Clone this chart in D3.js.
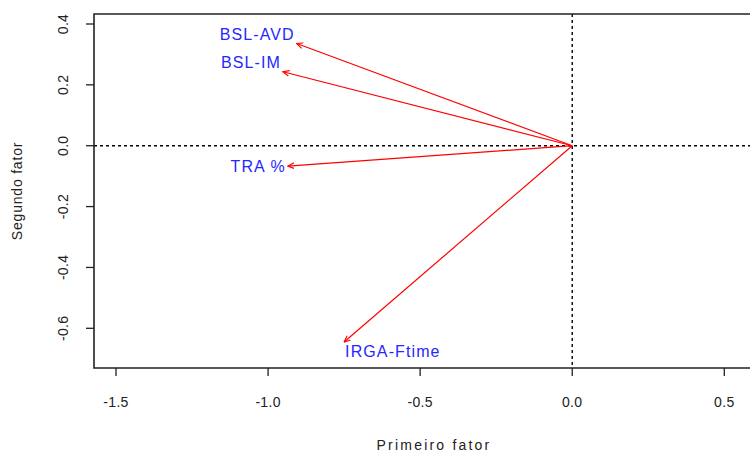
<!DOCTYPE html>
<meta charset="utf-8">
<head>
<style>
body { margin: 0; background: #fff; }
text { font-family: "Liberation Sans", Arial, sans-serif; }
.tick-label { font-size: 14px; fill: #222; letter-spacing: 0.3px; }
.axis-title { font-size: 14px; fill: #222; }
.var-label { font-size: 16px; fill: #2626ff; letter-spacing: 1.1px; }
</style>
<script src="https://d3js.org/d3.v7.min.js"></script>
</head>
<body>
<svg width="750" height="454"></svg>
<script>

// loadings of each variable on the two factors
var varNames = ["BSL-AVD", "BSL-IM", "TRA %", "IRGA-Ftime"];
var fator1 = [-0.906, -0.951, -0.935, -0.750];
var fator2 = [0.336, 0.243, -0.067, -0.645];

var xTicks = [-1.5, -1.0, -0.5, 0.0, 0.5];
var yTicks = [-0.6, -0.4, -0.2, 0.0, 0.2, 0.4];

var svg = d3.select("svg");

// same scale on both axes (asp = 1)
var x = d3.scaleLinear().domain([-1.5, 0.5]).range([116, 724.3]);
var y = d3.scaleLinear().domain([-0.6, 0.4]).range([328.3, 24]);

var box = { left: 94, top: 14, bottom: 368, right: 770 };

// R prints a plain hyphen, not the unicode minus
var fmt = function(d) { return d3.format(".1f")(d).replace("\u2212", "-"); };

svg.append("defs").append("marker")
    .attr("id", "head")
    .attr("viewBox", "0 0 10 10")
    .attr("refX", 9).attr("refY", 5)
    .attr("markerWidth", 7).attr("markerHeight", 7)
    .attr("markerUnits", "userSpaceOnUse")
    .attr("orient", "auto")
  .append("path")
    .attr("d", "M0,1 L9,5 L0,9")
    .attr("fill", "none")
    .attr("stroke", "#ff0000")
    .attr("stroke-width", 1.6);

// reference lines through the origin
svg.append("line")
    .attr("x1", box.left).attr("x2", box.right)
    .attr("y1", y(0)).attr("y2", y(0))
    .attr("stroke", "#000").attr("stroke-width", 1.4)
    .attr("stroke-dasharray", "3,3");
svg.append("line")
    .attr("x1", x(0)).attr("x2", x(0))
    .attr("y1", box.top).attr("y2", box.bottom)
    .attr("stroke", "#000").attr("stroke-width", 1.4)
    .attr("stroke-dasharray", "3,3");

var data = varNames.map(function(n, i) { return { name: n, f1: fator1[i], f2: fator2[i] }; });

svg.append("g").selectAll("line")
  .data(data)
  .enter().append("line")
    .attr("x1", x(0)).attr("y1", y(0))
    .attr("x2", function(d) { return x(d.f1); })
    .attr("y2", function(d) { return y(d.f2); })
    .attr("stroke", "#ff0000")
    .attr("stroke-width", 1.2)
    .attr("marker-end", "url(#head)");

// labels: upper ones sit above-left of the tip, middle one left, lower one below-right
svg.append("g").selectAll("text")
  .data(data)
  .enter().append("text")
    .attr("class", "var-label")
    .attr("x", function(d) { return d.f2 < -0.3 ? x(d.f1) + 1 : x(d.f1) - 2; })
    .attr("y", function(d) {
      if (d.f2 > 0.1) return y(d.f2) - 9.5;
      if (d.f2 < -0.3) return y(d.f2) + 9.5;
      return y(d.f2);
    })
    .attr("dy", "0.36em")
    .attr("text-anchor", function(d) { return d.f2 < -0.3 ? "start" : "end"; })
    .text(function(d) { return d.name; });

// box
svg.append("path")
    .attr("d", "M" + box.right + "," + box.top + "H" + box.left + "V" + box.bottom + "H" + box.right)
    .attr("fill", "none")
    .attr("stroke", "#222")
    .attr("stroke-width", 1.6);

// x axis
var xg = svg.append("g");
xg.selectAll("line").data(xTicks).enter().append("line")
    .attr("x1", x).attr("x2", x)
    .attr("y1", box.bottom).attr("y2", box.bottom + 8)
    .attr("stroke", "#222").attr("stroke-width", 1.3);
xg.selectAll("text").data(xTicks).enter().append("text")
    .attr("class", "tick-label")
    .attr("x", x).attr("y", 402)
    .attr("dy", "0.36em")
    .attr("text-anchor", "middle")
    .text(fmt);

// y axis
var yg = svg.append("g");
yg.selectAll("line").data(yTicks).enter().append("line")
    .attr("y1", y).attr("y2", y)
    .attr("x1", box.left - 8).attr("x2", box.left)
    .attr("stroke", "#222").attr("stroke-width", 1.3);
yg.selectAll("text").data(yTicks).enter().append("text")
    .attr("class", "tick-label")
    .attr("transform", function(d) { return "translate(63," + y(d) + ") rotate(-90)"; })
    .attr("dy", "0.36em")
    .attr("text-anchor", "middle")
    .text(fmt);

svg.append("text")
    .attr("class", "axis-title")
    .attr("x", 434).attr("y", 445)
    .attr("dy", "0.36em")
    .attr("text-anchor", "middle")
    .style("letter-spacing", "2.2px")
    .text("Primeiro fator");

svg.append("text")
    .attr("class", "axis-title")
    .attr("transform", "translate(17,191) rotate(-90)")
    .attr("dy", "0.36em")
    .attr("text-anchor", "middle")
    .style("letter-spacing", "0.8px")
    .text("Segundo fator");

</script>
</body>
